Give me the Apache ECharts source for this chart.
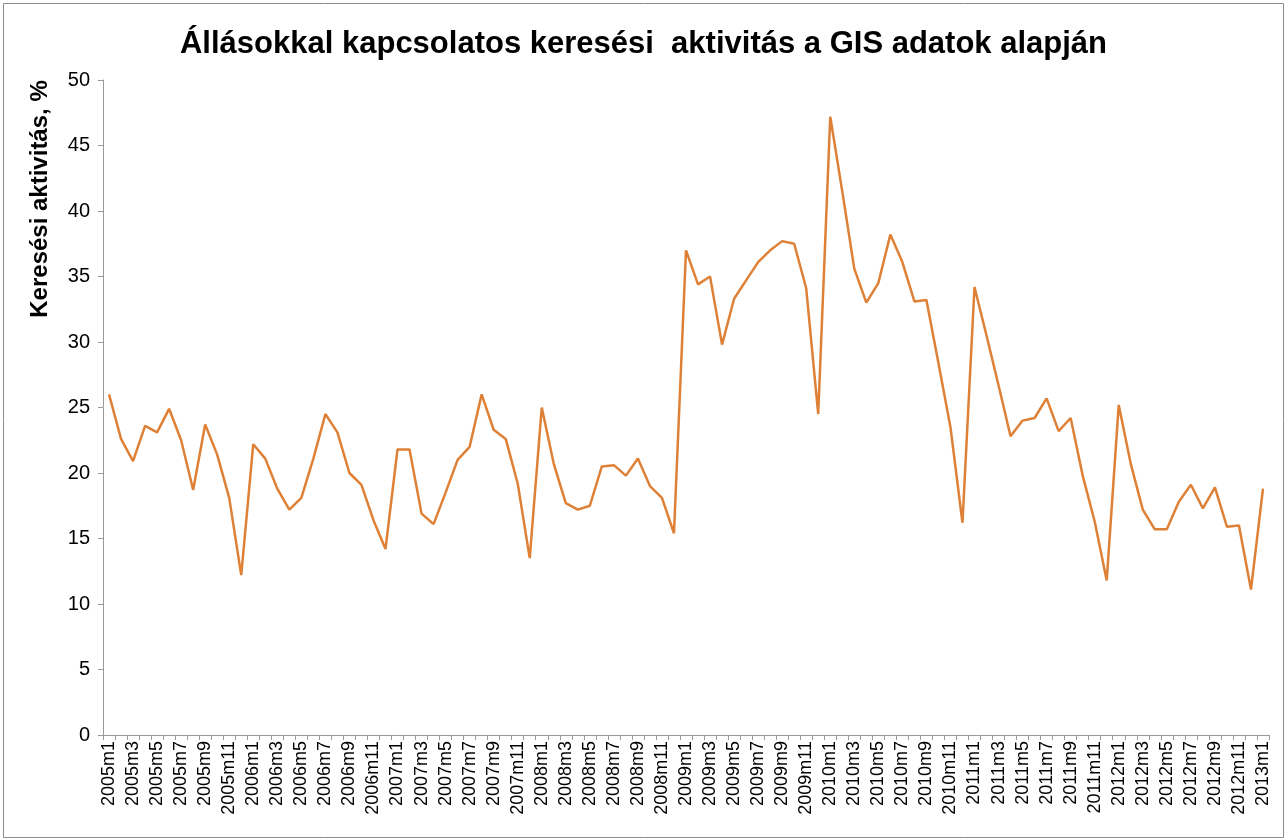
<!DOCTYPE html>
<html>
<head>
<meta charset="utf-8">
<script src="https://cdn.jsdelivr.net/npm/echarts@6/dist/echarts.min.js"></script>
<style>
html,body{margin:0;padding:0;background:#fff;}
#chart{width:1287px;height:839px;}
</style>
</head>
<body>
<div id="chart"></div>
<script>
const titleText = 'Állásokkal kapcsolatos keresési  aktivitás a GIS adatok alapján';
const yAxisTitle = 'Keresési aktivitás, %';
const startYear = 2005;
const monthCount = 97;
const yTicks = { min: 0, max: 50, interval: 5 };

const values = [
  26.0, 22.6, 20.9, 23.6, 23.1, 24.9, 22.5, 18.7, 23.7, 21.4, 18.1, 12.2,
  22.2, 21.1, 18.8, 17.2, 18.1, 21.1, 24.5, 23.1, 20.0, 19.1, 16.4, 14.2,
  21.8, 21.8, 16.9, 16.1, 18.5, 21.0, 22.0, 26.0, 23.3, 22.6, 19.2, 13.5,
  25.0, 20.7, 17.7, 17.2, 17.5, 20.5, 20.6, 19.8, 21.1, 19.0, 18.1, 15.4,
  37.0, 34.4, 35.0, 29.8, 33.3, 34.7, 36.1, 37.0, 37.7, 37.5, 34.1, 24.5,
  47.2, 41.5, 35.6, 33.0, 34.5, 38.2, 36.1, 33.1, 33.2, 28.4, 23.5, 16.2,
  34.2, 30.5, 26.7, 22.8, 24.0, 24.2, 25.7, 23.2, 24.2, 19.8, 16.3, 11.8,
  25.2, 20.7, 17.2, 15.7, 15.7, 17.8, 19.1, 17.3, 18.9, 15.9, 16.0, 11.1,
  18.8
];

const categories = [];
for (let i = 0; i < monthCount; i++) {
  categories.push((startYear + Math.floor(i / 12)) + 'm' + (i % 12 + 1));
}

const chart = echarts.init(document.getElementById('chart'), null, { renderer: 'canvas' });
const font = '"Liberation Sans", Arial, sans-serif';
const axisColor = '#9a9a9a';

chart.setOption({
  animation: false,
  backgroundColor: '#ffffff',
  title: {
    text: titleText,
    left: 'center',
    top: 24,
    textStyle: { fontFamily: font, fontSize: 31, fontWeight: 'bold', color: '#000' }
  },
  graphic: [
    {
      type: 'rect',
      shape: { x: 3.5, y: 3.5, width: 1280, height: 834 },
      style: { fill: 'none', stroke: '#8c8c8c', lineWidth: 1 },
      silent: true
    },
    {
      type: 'text',
      x: 40,
      y: 199,
      rotation: Math.PI / 2,
      style: {
        text: yAxisTitle,
        fontFamily: font,
        fontSize: 24,
        fontWeight: 'bold',
        fill: '#000',
        align: 'center',
        verticalAlign: 'middle'
      }
    }
  ],
  grid: { left: 103, right: 18, top: 80, bottom: 104, containLabel: false },
  xAxis: {
    type: 'category',
    data: categories,
    boundaryGap: true,
    axisLine: { lineStyle: { color: axisColor, width: 1 } },
    axisTick: { show: true, interval: 0, length: 5, lineStyle: { color: axisColor } },
    axisLabel: {
      interval: 1,
      rotate: 90,
      fontFamily: font,
      fontSize: 18,
      color: '#000',
      margin: 6
    },
    splitLine: { show: false }
  },
  yAxis: {
    type: 'value',
    min: yTicks.min,
    max: yTicks.max,
    interval: yTicks.interval,
    axisLine: { show: true, lineStyle: { color: axisColor, width: 1 } },
    axisTick: { show: true, length: 5, lineStyle: { color: axisColor } },
    axisLabel: { fontFamily: font, fontSize: 20, color: '#000', margin: 13 },
    splitLine: { show: false }
  },
  series: [{
    type: 'line',
    data: values,
    symbol: 'none',
    lineStyle: { color: '#DE8137', width: 2.5 },
    itemStyle: { color: '#DE8137' }
  }]
});
</script>
</body>
</html>
